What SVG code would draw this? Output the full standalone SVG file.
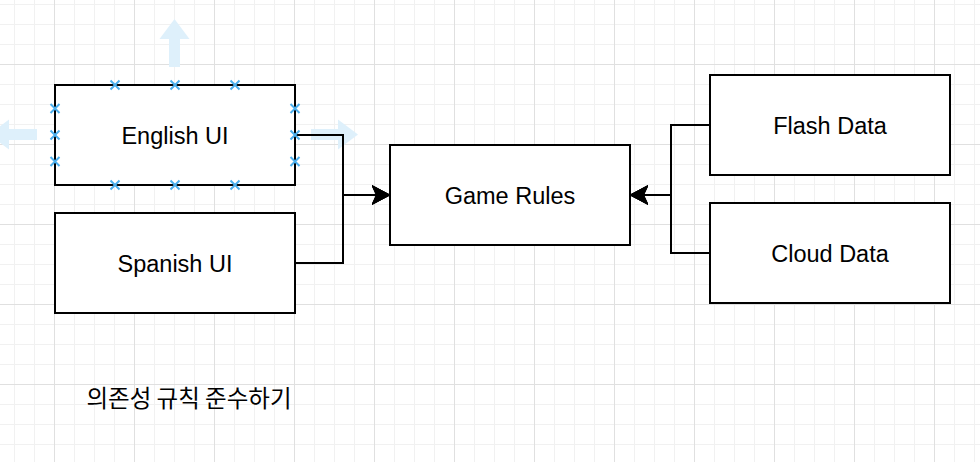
<svg xmlns="http://www.w3.org/2000/svg" width="980" height="462" viewBox="0 0 980 462">
  <style>
    .box { fill: #ffffff; stroke: #000000; stroke-width: 2; }
    .lbl { font-family: "Liberation Sans", Arial, Helvetica, sans-serif; font-size: 23.5px; fill: #000000; text-anchor: middle; }
    .kr { font-family: "Noto Sans CJK KR", "Noto Sans", sans-serif; font-size: 23.5px; fill: #000000; text-anchor: middle; }
    .edge { fill: none; stroke: #000000; stroke-width: 2; marker-end: url(#arrow); }
    .hint { fill: #def0fb; stroke: none; }
    .pt { fill: none; stroke: #4cb0ee; stroke-width: 2; }
  </style>
  <defs>
    <pattern id="grid" patternUnits="userSpaceOnUse" x="14" y="4" width="80" height="80">
      <path d="M0.5,0V80M20.5,0V80M60.5,0V80M0,0.5H80M0,20.5H80M0,40.5H80" stroke="#f1f1f1" stroke-width="1" fill="none"/>
      <path d="M40.5,0V80M0,60.5H80" stroke="#e0e0e0" stroke-width="1" fill="none"/>
    </pattern>
    <marker id="arrow" viewBox="-18 -10 19 20" refX="0" refY="0" markerWidth="19" markerHeight="20" markerUnits="userSpaceOnUse" orient="auto">
      <path d="M0,0 L-18,-9.5 L-13.5,0 L-18,9.5 Z" fill="#000000" stroke="#000000" stroke-width="1" stroke-linejoin="miter"/>
    </marker>
    <path id="xm" d="M-4.5,-4.5L4.5,4.5M-4.5,4.5L4.5,-4.5"/>
  </defs>

  <g id="background">
    <rect x="0" y="0" width="980" height="462" fill="#ffffff"/>
    <rect x="0" y="0" width="980" height="462" fill="url(#grid)"/>
  </g>

  <g id="hover-arrows">
    <polygon class="hint" points="174.5,19 189.5,39 180,39 180,67 169,67 169,39 159.5,39"/>
    <polygon class="hint" points="-11,134.5 9,119.5 9,129 37,129 37,140 9,140 9,149.5"/>
    <polygon class="hint" points="358,134.5 338,119.5 338,129 311,129 311,140 338,140 338,149.5"/>
  </g>

  <g id="node-english-ui">
    <rect class="box" x="55" y="85" width="240" height="100"/>
    <text class="lbl" x="175" y="144">English UI</text>
  </g>
  <g id="node-spanish-ui">
    <rect class="box" x="55" y="213" width="240" height="100"/>
    <text class="lbl" x="175" y="272">Spanish UI</text>
  </g>
  <g id="node-game-rules">
    <rect class="box" x="390" y="145" width="240" height="100"/>
    <text class="lbl" x="510" y="204">Game Rules</text>
  </g>
  <g id="node-flash-data">
    <rect class="box" x="710" y="75" width="240" height="100"/>
    <text class="lbl" x="830" y="134">Flash Data</text>
  </g>
  <g id="node-cloud-data">
    <rect class="box" x="710" y="203" width="240" height="100"/>
    <text class="lbl" x="830" y="262">Cloud Data</text>
  </g>

  <g id="connectors">
    <path class="edge" d="M295,135 H343 V195 H390"/>
    <path class="edge" d="M295,263 H343 V195 H390"/>
    <path class="edge" d="M710,125 H671 V195 H630"/>
    <path class="edge" d="M710,253 H671 V195 H630"/>
  </g>

  <g id="connection-points">
    <use href="#xm" class="pt" x="115" y="85"/>
    <use href="#xm" class="pt" x="175" y="85"/>
    <use href="#xm" class="pt" x="235" y="85"/>
    <use href="#xm" class="pt" x="115" y="185"/>
    <use href="#xm" class="pt" x="175" y="185"/>
    <use href="#xm" class="pt" x="235" y="185"/>
    <use href="#xm" class="pt" x="55" y="108.5"/>
    <use href="#xm" class="pt" x="55" y="135"/>
    <use href="#xm" class="pt" x="55" y="161.5"/>
    <use href="#xm" class="pt" x="295" y="108.5"/>
    <use href="#xm" class="pt" x="295" y="135"/>
    <use href="#xm" class="pt" x="295" y="161.5"/>
  </g>

  <g id="caption">
    <text class="kr" x="189" y="407">의존성 규칙 준수하기</text>
  </g>
</svg>
